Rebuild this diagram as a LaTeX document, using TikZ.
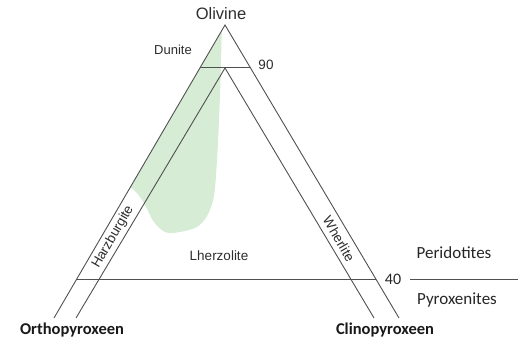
\documentclass[tikz,border=0pt]{standalone}
\usepackage{fontspec}
\setmainfont{Liberation Sans}
\newfontfamily\calfont{Carlito}
\usetikzlibrary{calc}
\definecolor{lineg}{RGB}{80,80,80}
\definecolor{blobg}{RGB}{214,236,212}
\definecolor{txtg}{RGB}{45,45,45}
\begin{document}
\begin{tikzpicture}[x=1pt,y=-1pt,
  edge/.style={draw=lineg,line width=0.9pt},
  sep/.style={draw=lineg,line width=0.8pt},
  lab/.style={inner sep=0pt,text=txtg,font=\fontsize{13.5}{15}\selectfont},
  cal/.style={inner sep=0pt,text=black!85,font=\calfont\fontsize{17}{19}\selectfont},
  calb/.style={inner sep=0pt,text=black!90,font=\calfont\bfseries\fontsize{16.5}{18}\selectfont}]
\useasboundingbox (0,0) rectangle (524,339);
% corners
\coordinate (O) at (225,25);
\coordinate (L) at (54,318);
\coordinate (R) at (399,318);
\coordinate (I) at (225,68);
\coordinate (IL) at (76,318);
\coordinate (IR) at (374,318);
\coordinate (a90) at ($(O)!0.1433!(L)$);
\coordinate (b90) at ($(O)!0.1433!(R)$);
\coordinate (a40) at ($(O)!0.8669!(L)$);
\coordinate (b40) at ($(O)!0.8669!(R)$);
\coordinate (s1) at (410,279);
\coordinate (s2) at (518,279);
% green field
\begin{scope}
\clip (O) -- (L) -- (R) -- cycle;
\fill[blobg] (222,10) -- plot[smooth] coordinates {(221.5,40) (220.5,80) (219,120) (217,160) (214,196) (207,216) (195,228) (168,233) (154,222) (144,203) (136,192) (128,186)} -- (100,186) -- (200,10) -- cycle;
\end{scope}
% lines
\draw[edge] (L) -- (O) -- (R);
\draw[edge] (IL) -- (I) -- (IR);
\draw[sep] (a90) -- (b90);
\draw[sep] (a40) -- (b40);
\draw[sep] (s1) -- (s2);
% labels
\node[lab,font=\fontsize{16.5}{18}\selectfont] (olv) at (221,14) {Olivine};
\node[lab,font=\fontsize{13}{15}\selectfont] (dun) at (173,50) {Dunite};
\node[lab] (n90) at (266,65) {90};
\node[lab] (lhz) at (219,256) {Lherzolite};
\node[lab,rotate=60] (hzb) at (113,237) {Harzburgite};
\node[lab,rotate=-60] (whr) at (339,239) {Wherlite};
\node[cal,font=\calfont\fontsize{16}{18}\selectfont] (n40) at (393,279) {40};
\node[cal] (per) at (454,253) {Peridotites};
\node[cal] (pyr) at (457,300) {Pyroxenites};
\node[calb] (opx) at (72,330) {Orthopyroxeen};
\node[calb] (cpx) at (385,330) {Clinopyroxeen};
\end{tikzpicture}
\end{document}
